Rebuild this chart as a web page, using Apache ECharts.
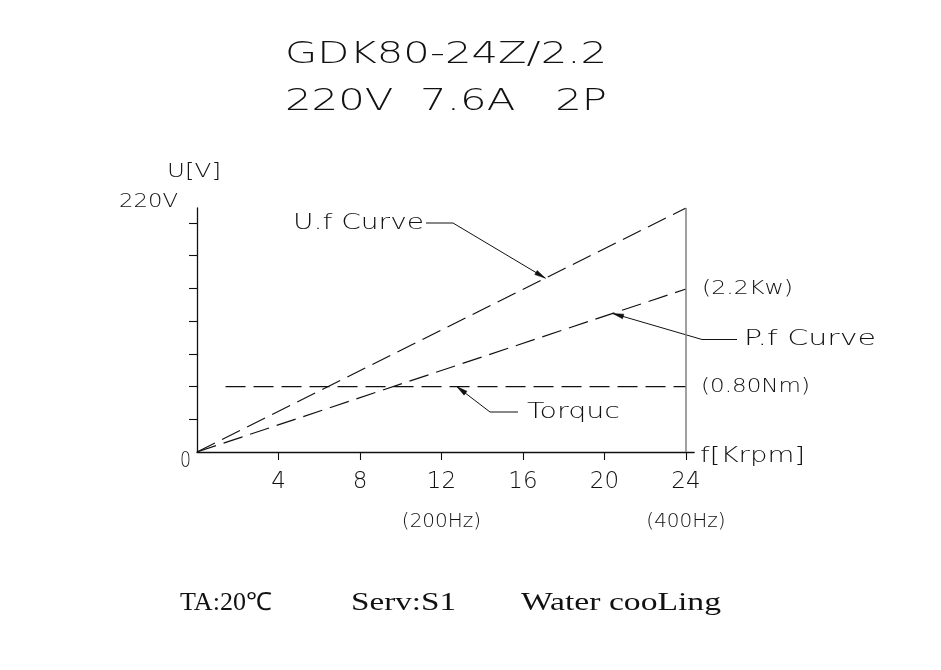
<!DOCTYPE html>
<html><head><meta charset="utf-8">
<script src="https://cdn.jsdelivr.net/npm/echarts@6/dist/echarts.min.js"></script>
<style>html,body{margin:0;padding:0;background:#fff}#c{width:941px;height:670px}</style>
</head><body><div id="c"></div>
<script>
// ---------------- data ----------------
const titleLines = ['GDK80-24Z/2.2', '220V  7.6A   2P'];
const footNotes = ['TA:20℃', 'Serv:S1', 'Water cooLing'];
const speedTicks = [4, 8, 12, 16, 20, 24];                 // f [Krpm]
const freqLabels = {12: '(200Hz)', 24: '(400Hz)'};
const voltTicks = [29.5, 59, 88.5, 118, 147.5, 177, 206.5]; // U[V] scale marks
const ufSpeed = [0, 24];     const ufVolt = [0, 220];        // U.f curve
const pfSpeed = [0, 24];     const pfLevel = [0, 147];       // P.f curve (2.2Kw at 24 Krpm)
const tqSpeed = [1.4, 24];   const tqLevel = [59, 59];       // Torque (0.80Nm)
const edgeSpeed = [24, 24];  const edgeLevel = [0, 220];     // right boundary line
const tipSpeed = {uf: 17.1, pf: 20.4, tq: 12.75};            // where leader arrows touch curves

// ---------------- chart ----------------
const CAD = "'DejaVu Sans'";
const INK = '#111';
const pairs = (xs, ys) => xs.map((x, i) => [x, ys[i]]);
const chart = echarts.init(document.getElementById('c'), null, {renderer: 'canvas'});

const dashed = {color: INK, width: 1.2, type: [20, 8]};
chart.setOption({
  animation: false,
  backgroundColor: '#fff',
  grid: {left: 197, top: 208, right: 246.85, bottom: 218},
  xAxis: {
    type: 'value', min: 0, max: 24.4,
    axisLine: {lineStyle: {color: INK, width: 1.3}},
    axisTick: {show: true, customValues: speedTicks, length: 8, lineStyle: {color: INK, width: 1.1}},
    axisLabel: {
      customValues: speedTicks, margin: 18, color: INK,
      formatter: v => freqLabels[v] ? `{a|${v}}\n{b|${freqLabels[v]}}` : `{a|${v}}`,
      rich: {
        a: {fontFamily: CAD, fontWeight: 200, fontSize: 23, lineHeight: 24, color: INK},
        b: {fontFamily: CAD, fontWeight: 200, fontSize: 20, lineHeight: 56, color: INK}
      }
    },
    splitLine: {show: false}
  },
  yAxis: {
    type: 'value', min: 0, max: 220,
    axisLine: {show: true, lineStyle: {color: INK, width: 1.3}},
    axisTick: {show: true, customValues: voltTicks, length: 8, lineStyle: {color: INK, width: 1.1}},
    axisLabel: {show: false},
    splitLine: {show: false}
  },
  series: [
    {name: 'U.f Curve', type: 'line', data: pairs(ufSpeed, ufVolt), symbol: 'none', lineStyle: dashed, silent: true},
    {name: 'P.f Curve', type: 'line', data: pairs(pfSpeed, pfLevel), symbol: 'none', lineStyle: dashed, silent: true},
    {name: 'Torquc', type: 'line', data: pairs(tqSpeed, tqLevel), symbol: 'none', lineStyle: dashed, silent: true},
    {name: 'edge', type: 'line', data: pairs(edgeSpeed, edgeLevel), symbol: 'none', silent: true,
     lineStyle: {color: '#808080', width: 1.5}}
  ]
});

// ---------------- annotations ----------------
const ctx = document.createElement('canvas').getContext('2d');
function fitText(text, x0, x1, cy, size, fam, weight) {
  const font = `${weight} ${size}px ${fam}`;
  ctx.font = font;
  const w = ctx.measureText(text).width;
  return {type: 'text', x: x0, y: cy, scaleX: (x1 - x0) / w, silent: true,
    style: {text, font, fill: INK, align: 'left', verticalAlign: 'middle', textAlign: 'left', textVerticalAlign: 'middle'}};
}
function onLine(xs, ys, s) {
  const t = (s - xs[0]) / (xs[1] - xs[0]);
  return ys[0] + t * (ys[1] - ys[0]);
}
function leader(pts, tip) {
  const all = pts.concat([tip]);
  const a = all[all.length - 2];
  let dx = tip[0] - a[0], dy = tip[1] - a[1];
  const L = Math.hypot(dx, dy); dx /= L; dy /= L;
  const len = 11, hw = 2.4;
  const bx = tip[0] - dx * len, by = tip[1] - dy * len;
  return [
    {type: 'polyline', silent: true, shape: {points: all}, style: {stroke: INK, lineWidth: 1, fill: null}},
    {type: 'polygon', silent: true, shape: {points: [tip, [bx - dy * hw, by + dx * hw], [bx + dy * hw, by - dx * hw]]},
     style: {fill: INK, stroke: INK, lineWidth: 0.5}}
  ];
}
const px = (s, v) => chart.convertToPixel({gridIndex: 0}, [s, v]);
const ufTip = px(tipSpeed.uf, onLine(ufSpeed, ufVolt, tipSpeed.uf));
const pfTip = px(tipSpeed.pf, onLine(pfSpeed, pfLevel, tipSpeed.pf));
const tqTip = px(tipSpeed.tq, tqLevel[0]);
const pfEnd = px(pfSpeed[1], pfLevel[1]);
const tqEnd = px(tqSpeed[1], tqLevel[1]);

const g = [];
g.push(fitText(titleLines[0], 285, 607, 55, 31, CAD, 200));
g.push(fitText(titleLines[1], 285, 607, 102, 31, CAD, 200));
g.push(fitText('U[V]', 167, 221, 172, 19, CAD, 200));
g.push(fitText('220V', 119, 178, 202, 19, CAD, 200));
g.push(fitText('0', 180, 191, 461, 22, CAD, 200));
g.push(fitText('f[Krpm]', 700, 805, 457, 21, CAD, 200));
g.push(fitText('U.f Curve', 293, 424, 224, 21, CAD, 200));
g.push(fitText('P.f Curve', 744, 876, 340, 21, CAD, 200));
g.push(fitText('Torquc', 527, 620, 413, 21, CAD, 200));
g.push(fitText('(2.2Kw)', 702, 793, pfEnd[1], 20, CAD, 200));
g.push(fitText('(0.80Nm)', 701, 810, tqEnd[1], 20, CAD, 200));
g.push(...leader([[426, 223], [453, 223]], ufTip));
g.push(...leader([[737, 339.5], [702, 339.5]], pfTip));
g.push(...leader([[518, 412], [490, 412]], tqTip));
const SERIF = "'Liberation Serif'";
g.push(fitText(footNotes[0], 180, 272, 603, 25, SERIF, 'normal'));
g.push(fitText(footNotes[1], 351, 456, 603, 25, SERIF, 'normal'));
g.push(fitText(footNotes[2], 521, 721, 603, 25, SERIF, 'normal'));
chart.setOption({graphic: {elements: g}});
</script>
</body></html>
